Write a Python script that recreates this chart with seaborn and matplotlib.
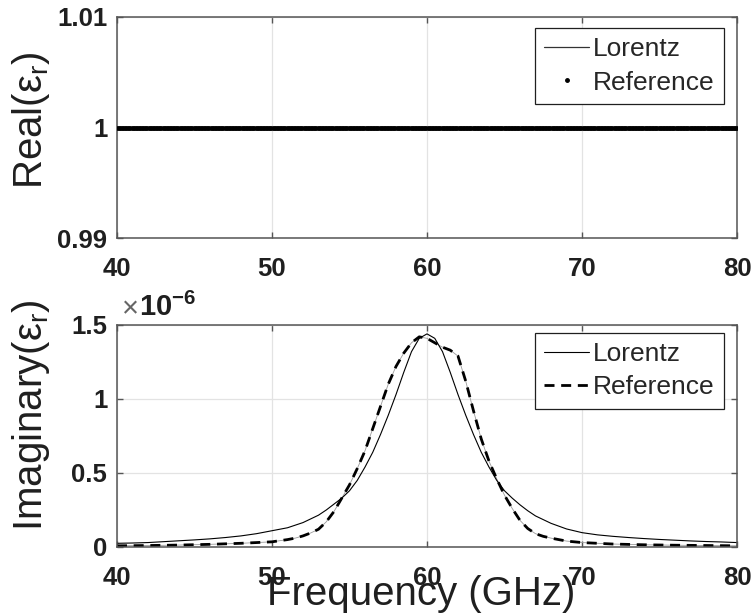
import numpy as np
import pandas as pd
import matplotlib
matplotlib.use("Agg")
import matplotlib.pyplot as plt
from matplotlib.lines import Line2D
import seaborn as sns

# ---- data -------------------------------------------------------------
# Real part: flat at 1 over the whole band
real_freq = np.linspace(40, 80, 401)
real_lorentz = np.ones_like(real_freq)
real_reference = np.ones_like(real_freq)

# Imaginary part (units of 1e-6)
lorentz_freq = [40, 41, 42, 43, 44, 45, 46, 47, 48, 49, 50, 51, 52, 53, 53.5,
                54, 54.5, 55, 55.5, 56, 56.5, 57, 57.5, 58, 58.5, 59, 59.5, 60,
                60.5, 61, 61.5, 62, 62.5, 63, 63.5, 64, 64.5, 65, 65.5, 66,
                66.5, 67, 68, 69, 70, 71, 72, 73, 74, 75, 76, 77, 78, 79, 80]
lorentz_imag = [0.025, 0.027, 0.03, 0.036, 0.042, 0.048, 0.055, 0.064, 0.075,
                0.09, 0.11, 0.13, 0.165, 0.215, 0.25, 0.29, 0.33, 0.38, 0.45,
                0.54, 0.64, 0.76, 0.89, 1.03, 1.18, 1.32, 1.41, 1.44, 1.41,
                1.32, 1.18, 1.03, 0.89, 0.76, 0.64, 0.54, 0.45, 0.38, 0.33,
                0.285, 0.245, 0.21, 0.16, 0.122, 0.097, 0.082, 0.072, 0.064,
                0.057, 0.051, 0.046, 0.041, 0.037, 0.034, 0.03]

reference_freq = [40, 42, 44, 46, 48, 50, 51, 51.5, 52, 52.5, 53, 53.5, 54,
                  54.5, 55, 55.5, 56, 56.5, 57, 57.5, 58, 58.5, 59, 59.5, 60,
                  60.5, 61, 61.5, 62, 62.5, 63, 63.5, 64, 64.5, 65, 65.5, 66,
                  66.5, 67, 67.5, 68, 69, 70, 72, 74, 76, 78, 80]
reference_imag = [0.008, 0.01, 0.013, 0.018, 0.025, 0.035, 0.05, 0.06, 0.075,
                  0.095, 0.12, 0.17, 0.24, 0.33, 0.42, 0.53, 0.65, 0.8, 0.95,
                  1.1, 1.22, 1.31, 1.38, 1.42, 1.41, 1.38, 1.35, 1.33, 1.29,
                  1.12, 0.92, 0.73, 0.58, 0.46, 0.35, 0.26, 0.18, 0.125, 0.09,
                  0.072, 0.06, 0.04, 0.03, 0.02, 0.015, 0.012, 0.01, 0.008]

x_ticks = [40, 50, 60, 70, 80]
real_ticks = [0.99, 1.0, 1.01]
real_ticklabels = ["0.99", "1", "1.01"]
imag_ticks = [0, 0.5, 1.0, 1.5]
imag_ticklabels = ["0", "0.5", "1", "1.5"]

# ---- style ------------------------------------------------------------
sns.set_theme(style="white")
plt.rcParams["font.family"] = ["Liberation Sans", "DejaVu Sans"]
plt.rcParams["mathtext.fontset"] = "custom"
plt.rcParams["mathtext.rm"] = "Liberation Sans"
plt.rcParams["mathtext.bf"] = "Liberation Sans:bold"

TXT = "#1f1f1f"
SPINE = "#555555"
GRID = "#e3e3e3"
TICK_FS = 18.5
LABEL_FS = 29
LEG_FS = 19

fig = plt.figure(figsize=(7.54, 6.14), dpi=100)
ax1 = fig.add_axes([117 / 754, 1 - 238 / 614, 620 / 754, 221 / 614])
ax2 = fig.add_axes([117 / 754, 1 - 547 / 614, 620 / 754, 222 / 614])


def style_axes(ax):
    ax.set_xlim(40, 80)
    ax.set_xticks(x_ticks)
    ax.set_xticklabels([str(t) for t in x_ticks])
    ax.grid(True, color=GRID, lw=0.9)
    ax.set_axisbelow(True)
    for s in ax.spines.values():
        s.set_color(SPINE)
        s.set_linewidth(1.1)
    ax.tick_params(direction="in", length=4.5, width=1.0, color=SPINE,
                   top=True, right=True, bottom=True, left=True,
                   labelsize=TICK_FS, labelcolor=TXT)
    ax.tick_params(axis="x", pad=14)
    ax.tick_params(axis="y", pad=7)
    for lab in ax.get_xticklabels() + ax.get_yticklabels():
        lab.set_fontweight("bold")


# ---- top: real part ----------------------------------------------------
df_real = pd.DataFrame({"f": real_freq, "lor": real_lorentz, "ref": real_reference})
sns.lineplot(data=df_real, x="f", y="lor", ax=ax1, color="#333333", lw=0.9)
sns.scatterplot(data=df_real, x="f", y="ref", ax=ax1, color="black", s=10,
                marker="o", edgecolor="black", linewidth=0.3, zorder=3)
ax1.set_ylim(0.99, 1.01)
ax1.set_yticks(real_ticks)
ax1.set_yticklabels(real_ticklabels)
style_axes(ax1)
ax1.set_xlabel("")
ax1.set_ylabel("Real(ε$_\\mathregular{r}$)", fontsize=LABEL_FS, color=TXT)
ax1.yaxis.set_label_coords(-0.105, 0.534)

h1 = [Line2D([], [], color="#333333", lw=0.9),
      Line2D([], [], color="black", marker="o", markersize=2.5, ls="none")]
leg1 = ax1.legend(h1, ["Lorentz", "Reference"], loc="upper right",
                  bbox_to_anchor=(0.979, 0.950), borderaxespad=0,
                  fontsize=LEG_FS, frameon=True, fancybox=False, framealpha=1,
                  edgecolor=TXT, borderpad=0.35, labelspacing=0.35,
                  handlelength=1.7, handletextpad=0.15)
leg1.get_frame().set_linewidth(0.9)

# ---- bottom: imaginary part -------------------------------------------
df_lor = pd.DataFrame({"f": lorentz_freq, "v": lorentz_imag})
df_ref = pd.DataFrame({"f": reference_freq, "v": reference_imag})
sns.lineplot(data=df_ref, x="f", y="v", ax=ax2, color="#9a9a9a", lw=0.6)
sns.lineplot(data=df_lor, x="f", y="v", ax=ax2, color="black", lw=0.8)
ref_line = sns.lineplot(data=df_ref, x="f", y="v", ax=ax2, color="black",
                        lw=2.0).lines[-1]
ref_line.set_dashes((3.6, 2.4))
ax2.set_ylim(0, 1.5)
ax2.set_yticks(imag_ticks)
ax2.set_yticklabels(imag_ticklabels)
style_axes(ax2)
ax2.set_xlabel("Frequency (GHz)", fontsize=LABEL_FS, color=TXT)
ax2.xaxis.set_label_coords(0.49, -0.125)
ax2.set_ylabel("Imaginary(ε$_\\mathregular{r}$)", fontsize=LABEL_FS, color=TXT)
ax2.yaxis.set_label_coords(-0.105, 0.595)

ax2.text(0.006, 1.015, r"$\times$", transform=ax2.transAxes, fontsize=21,
         color="#666666", ha="left", va="bottom")
ax2.text(0.036, 1.015, r"$\mathbf{10^{-6}}$", transform=ax2.transAxes,
         fontsize=21, color=TXT, ha="left", va="bottom")

h2 = [Line2D([], [], color="black", lw=0.8),
      Line2D([], [], color="black", lw=2.0, dashes=(3.6, 2.4))]
leg2 = ax2.legend(h2, ["Lorentz", "Reference"], loc="upper right",
                  bbox_to_anchor=(0.979, 0.964), borderaxespad=0,
                  fontsize=LEG_FS, frameon=True, fancybox=False, framealpha=1,
                  edgecolor=TXT, borderpad=0.35, labelspacing=0.35,
                  handlelength=1.7, handletextpad=0.15)
leg2.get_frame().set_linewidth(0.9)

fig.savefig("out.png", dpi=100)
